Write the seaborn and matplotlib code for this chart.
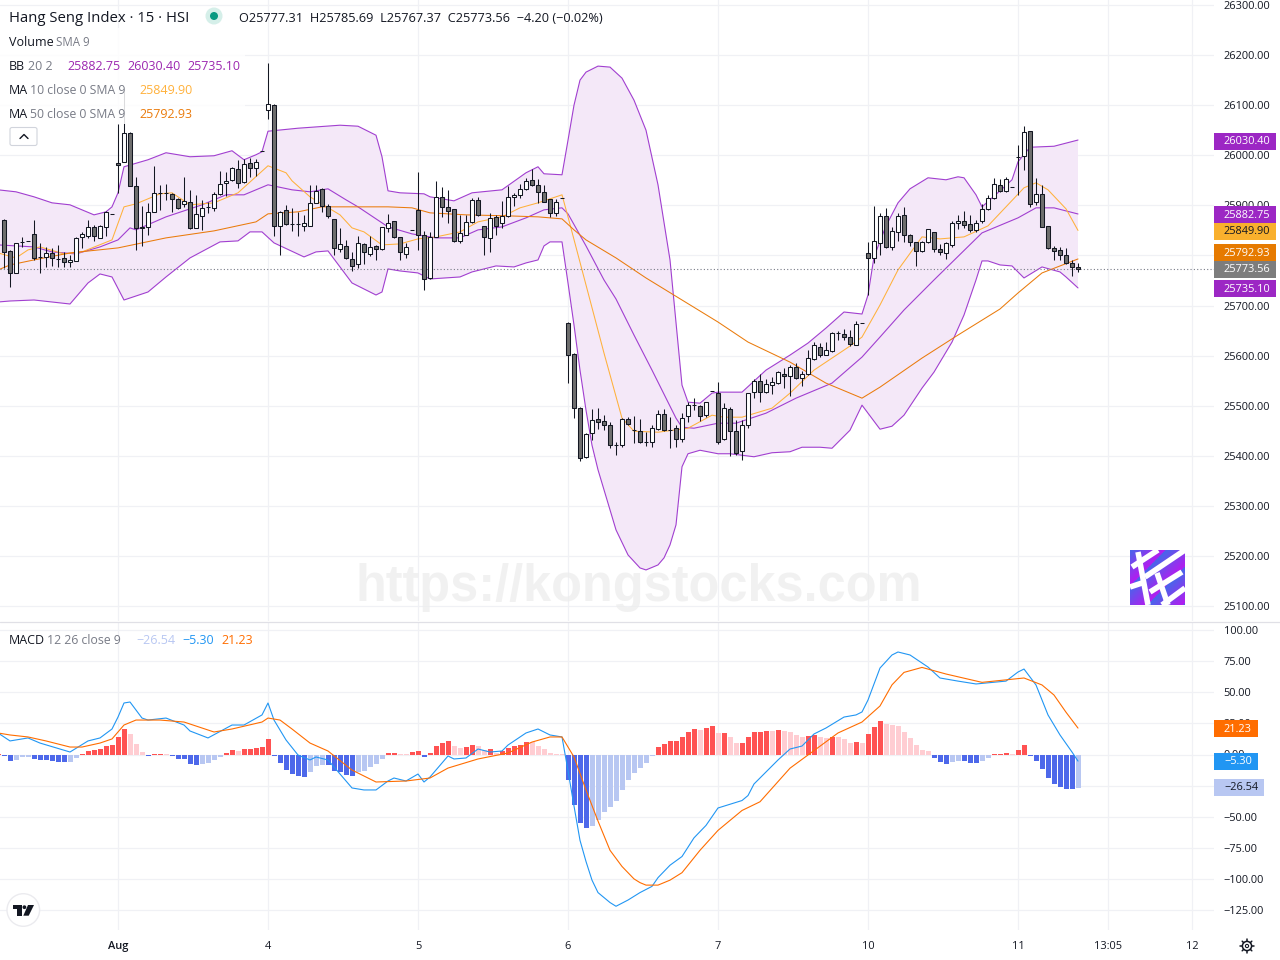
import numpy as np
import pandas as pd
import seaborn as sns
import matplotlib.pyplot as plt
from matplotlib.patches import Rectangle, Circle, FancyBboxPatch, Polygon

# candles, bar 0 is the "Aug" session open, 25 bars a day
opens = [25871,25809,25765,25827,25828,25842,25797,25796,25804,25792,
         25794,25786,25789,25836,25839,25857,25835,25856,25883,25985,
         25987,26044,25938,25854,25857,25886,25924,25924,25922,25912,
         25902,25906,25855,25879,25896,25894,25922,25944,25950,25972,
         25946,25984,25974,26008,26090,26101,25859,25890,25863,25863,
         25859,25859,25904,25932,25898,25872,25813,25819,25792,25782,
         25822,25803,25819,25812,25854,25868,25836,25802,25850,25890,
         25841,25754,25837,25916,25896,25892,25829,25841,25866,25910,
         25858,25834,25876,25864,25878,25916,25921,25932,25950,25940,
         25926,25912,25884,25914,25666,25604,25495,25397,25445,25473,
         25469,25461,25421,25421,25473,25451,25449,25428,25428,25453,
         25483,25452,25455,25433,25479,25501,25499,25481,25529,25525,
         25433,25493,25449,25409,25461,25527,25549,25527,25542,25545,
         25563,25559,25577,25555,25563,25593,25618,25602,25610,25646,
         25644,25638,25622,25666,25804,25794,25824,25878,25817,25846,
         25880,25840,25826,25808,25826,25846,25812,25804,25820,25864,
         25868,25862,25850,25868,25892,25914,25940,25928,25936,25996,
         25998,26048,25906,25922,25858,25814,25810,25800,25784,25777.31]
highs = [25873,25811,25825,25837,25828,25871,25824,25817,25814,25821,
         25807,25801,25836,25847,25871,25861,25861,25889,25883,26062,
         26133,26046,25957,25898,25904,25978,25940,25942,25924,25914,
         25957,25930,25920,25910,25907,25927,25969,25967,25977,25990,
         25992,25994,25992,26008,26185,26103,25889,25900,25894,25887,
         25881,25941,25941,25934,25903,25873,25854,25831,25806,25839,
         25824,25839,25820,25857,25882,25869,25837,25824,25850,25966,
         25849,25847,25949,25936,25931,25893,25881,25881,25915,25916,
         25859,25884,25881,25909,25939,25925,25943,25954,25973,25952,
         25941,25913,25912,25914,25667,25605,25498,25445,25493,25495,
         25481,25468,25428,25475,25478,25479,25473,25448,25461,25491,
         25493,25478,25461,25485,25508,25515,25501,25508,25529,25547,
         25505,25497,25471,25471,25526,25554,25563,25554,25557,25569,
         25575,25581,25585,25570,25611,25628,25626,25628,25647,25650,
         25654,25652,25669,25666,25826,25899,25884,25894,25857,25885,
         25896,25843,25827,25829,25853,25847,25822,25827,25869,25881,
         25889,25881,25871,25902,25921,25954,25953,25956,25936,26020,
         26058,26049,25954,25941,25859,25819,25816,25814,25791,25785.69]
lows = [25774,25737,25765,25817,25828,25791,25765,25777,25779,25777,
        25777,25777,25789,25814,25834,25829,25834,25839,25883,25925,
        25987,25938,25811,25819,25841,25886,25891,25910,25887,25893,
        25897,25853,25854,25851,25884,25889,25920,25919,25949,25934,
        25945,25957,25958,26008,26072,25839,25801,25861,25849,25839,
        25849,25859,25904,25887,25875,25801,25806,25793,25768,25775,
        25783,25799,25791,25811,25846,25835,25791,25795,25850,25811,
        25730,25753,25836,25877,25865,25827,25825,25840,25865,25879,
        25801,25806,25841,25854,25877,25899,25915,25931,25939,25905,
        25906,25877,25879,25914,25545,25475,25390,25396,25431,25453,
        25451,25415,25401,25417,25462,25425,25426,25420,25418,25452,
        25450,25415,25418,25428,25468,25491,25470,25477,25529,25423,
        25432,25400,25401,25391,25456,25516,25508,25526,25523,25544,
        25535,25520,25554,25539,25562,25592,25598,25601,25608,25631,
        25631,25620,25621,25666,25720,25784,25801,25815,25810,25829,
        25827,25819,25778,25807,25825,25806,25801,25793,25817,25853,
        25854,25847,25847,25864,25891,25913,25926,25926,25936,25921,
        25971,25897,25900,25856,25813,25791,25790,25783,25759,25767.37]
closes = [25807,25765,25824,25827,25828,25795,25797,25804,25794,25792,
          25787,25791,25834,25842,25857,25839,25859,25887,25883,25980,
          26044,25938,25854,25857,25886,25924,25924,25924,25912,25894,
          25909,25854,25882,25894,25896,25922,25942,25949,25975,25945,
          25982,25974,25987,26008,26103,25859,25887,25862,25863,25863,
          25864,25904,25929,25898,25879,25814,25822,25794,25778,25824,
          25806,25816,25813,25856,25864,25837,25806,25816,25850,25841,
          25752,25836,25916,25896,25889,25828,25844,25866,25910,25880,
          25836,25874,25859,25878,25916,25920,25932,25949,25940,25926,
          25907,25884,25906,25914,25602,25495,25395,25443,25471,25468,
          25462,25421,25421,25473,25463,25451,25427,25428,25455,25483,
          25451,25452,25433,25475,25501,25501,25479,25507,25529,25428,
          25495,25449,25406,25461,25525,25549,25527,25543,25547,25567,
          25559,25577,25555,25563,25595,25622,25602,25612,25646,25646,
          25638,25624,25664,25666,25794,25828,25878,25816,25848,25878,
          25840,25826,25808,25826,25852,25812,25806,25824,25864,25868,
          25860,25850,25864,25892,25914,25942,25928,25952,25936,25996,
          26046,25902,25922,25857,25814,25808,25800,25784,25776,25773.56]

# bollinger bands and moving averages, read at the bends of each line
upper_bars = [-20,-17,-14,-11,-8,-4,-2,-1,0,1,5,8,12,16,19,21,23,24,25,30,37,40,43,44,45,47,51,52,56,59,64,68,70,71,74,75,76,77,
              78,80,82,84,86,88,90,92,94,95,97,99,100,104,108,112,115,118,121,124,125,126,128,130,132,135,138,140,141,143,144,
              147,149,150,152,156,160]
upper_vals = [25931,25927,25917,25905,25901,25881,25887,25897,25925,25977,25991,26005,25997,25999,26009,25991,26001,26007,26048,
              26054,26060,26058,26040,25997,25929,25925,25923,25917,25909,25925,25931,25965,25977,25963,25961,26030,26100,26150,
              26166,26178,26176,26154,26110,26050,25941,25791,25541,25507,25505,25525,25527,25527,25571,25601,25625,25655,25687,
              25683,25721,25797,25859,25905,25933,25955,25951,25957,25955,25921,25897,25929,25951,25987,26016,26018,26030.40]
lower_bars = [-20,-18,-14,-8,-5,-3,-1,1,3,5,8,12,17,20,22,24,26,31,33,35,39,43,44,45,47,50,52,57,59,63,66,68,70,71,72,74,75,76,77,
              78,79,80,81,83,85,87,88,90,91,92,93,94,95,97,100,102,106,109,112,114,117,119,120,122,124,127,129,131,134,136,139,141,
              143,144,145,147,149,151,154,157,158,160]
lower_vals = [25707,25709,25711,25703,25745,25763,25757,25711,25719,25727,25757,25795,25827,25829,25847,25847,25825,25797,25807,
              25809,25745,25721,25727,25773,25769,25765,25753,25757,25767,25779,25777,25785,25791,25819,25827,25827,25745,25661,
              25571,25491,25421,25372,25332,25252,25202,25176,25172,25182,25196,25222,25262,25378,25404,25411,25404,25404,25398,
              25406,25408,25417,25417,25415,25427,25451,25501,25453,25459,25481,25535,25567,25627,25681,25751,25789,25789,25781,
              25779,25755,25777,25767,25757,25735.10]
basis_bars = [-20,-14,-11,-7,-3,0,2,3,8,14,18,21,25,29,32,35,38,40,45,49,53,57,60,64,68,71,74,75,78,81,83,86,89,91,93,94,96,100,
              103,108,113,119,124,127,131,136,144,150,153,156,160]
basis_vals = [25821,25817,25807,25803,25817,25831,25855,25851,25877,25901,25921,25921,25941,25931,25927,25933,25911,25897,25857,
              25843,25835,25835,25851,25857,25875,25891,25895,25883,25819,25751,25713,25641,25571,25523,25475,25457,25455,25465,
              25465,25485,25515,25545,25597,25637,25691,25751,25845,25875,25895,25895,25882.75]
ma10_bars = [-20,-17,-15,-13,-9,-6,-1,1,3,7,9,12,16,20,25,28,29,32,37,39,41,44,47,50,53,57,60,64,67,70,74,75,78,81,84,86,90,95,99,
             101,104,109,112,116,122,124,127,130,134,137,141,145,148,151,153,155,158,160]
ma10_vals = [25805,25795,25811,25817,25803,25807,25831,25897,25903,25923,25925,25901,25905,25925,25979,25965,25949,25917,25881,
             25855,25847,25821,25823,25833,25837,25847,25867,25877,25895,25905,25921,25877,25741,25605,25475,25449,25447,25455,
             25481,25477,25477,25495,25525,25571,25619,25637,25701,25771,25837,25833,25837,25859,25897,25935,25945,25931,25893,25849.90]
ma50_bars = [-20,-18,-14,-8,0,8,16,23,25,30,34,45,49,52,58,65,70,74,76,78,83,88,94,100,105,112,118,124,127,134,140,147,150,154,160]
ma50_vals = [25771,25781,25791,25805,25815,25835,25849,25867,25883,25887,25897,25897,25895,25885,25881,25879,25877,25873,25851,
             25831,25795,25755,25711,25667,25627,25587,25545,25515,25537,25595,25641,25693,25725,25765,25792.93]

# macd panel
hist_vals = [0.3,-1.1,-5.6,-4.3,-2.4,-1.9,-3.5,-4.3,-4.8,-5,-5.9,-6,-5.9,-2.7,0.5,3.2,4,4.8,7.2,7.3,13.7,20.6,16.6,8.6,2.1,-1.1,
             0.5,0.6,0.5,-1.1,-3.5,-3.6,-7.5,-8.3,-7.5,-6.7,-4.3,-1.9,1.3,3.8,2.9,4.6,4.7,5.4,6.2,12.6,-1.1,-6.7,-12.3,-15.5,-17.6,
             -17.8,-14.1,-9.6,-8.1,-8.3,-12.9,-13.7,-16.1,-16.9,-14.1,-12.9,-10.2,-8,-4,1.1,1.6,0.5,0.5,2.4,3.2,-2.1,1.1,7.2,9.6,10.5,
             7.2,5.6,5.8,8,7.2,4,4.4,1.6,3.2,5.6,7.2,8,10.2,10,7.2,4.8,1.6,0.5,0.5,-20.9,-40.2,-55.2,-59.2,-57.1,-52.3,-46.6,-42.4,-37,
             -28.2,-20.1,-14.5,-10.5,-7.2,-1.6,6.2,8.6,11,11.1,14.2,18.2,20.6,19.8,21.4,23,17.4,17.6,14.2,9.4,9.6,14.2,18.2,18.3,19,19,
             19.8,19,18.2,15.8,14.2,15,15.8,14.2,13.4,14.2,14.2,12.6,9.4,10.2,9.4,16.6,22,27,24.7,23.9,23,18.2,13.4,7.8,3.8,2.9,-2.7,
             -5.9,-7.5,-5.9,-5.1,-5.3,-6.7,-6.9,-5.1,-2.7,0.5,0.6,1.3,0.5,3.8,7.8,-1.1,-5.1,-11.5,-18.8,-23.6,-26,-27.6,-27.8,-26.54]
macd_bars = [-20,-18,-15,-13,-8,-5,-3,-1,0,1,2,4,5,8,11,12,15,19,21,24,25,26,28,30,32,33,35,39,41,43,45,46,48,50,51,52,55,56,58,60,
             62,64,65,68,70,72,74,75,76,77,78,79,80,82,83,85,87,89,90,92,94,96,98,100,102,104,105,106,110,112,114,116,118,121,123,
             124,125,127,129,130,132,135,137,140,143,148,150,151,153,155,157,159,160]
macd_vals = [17.3,10.9,13.3,9.2,2,10.9,13.3,20.5,30.1,41.4,42.2,29.3,27.7,29.3,23.7,18.9,13.3,23.7,23.7,31.8,41.4,27.7,11.7,-0.4,-4.4,
             -2,-4.4,-26.9,-28.5,-28.5,-21.3,-18.9,-21.3,-15.7,-22.1,-18.1,-1.2,-3.6,-2.8,4.4,2,2.8,7.6,17.3,20.5,15.7,14.1,-13,-41.4,
             -69,-86,-101,-111,-119,-122,-117,-111,-106,-99,-89,-82,-67,-57,-43,-40,-37,-33,-23.7,-4.4,4.4,6.8,16.5,21.3,30.1,31.8,
             34.2,43.8,69.5,80,82.4,80,70.3,61.5,59,56.7,59,66.3,68.7,55.9,31.8,15.7,2,-5.30]
signal_bars = [-20,-18,-15,-12,-8,-6,-3,-1,1,3,7,11,16,19,24,25,27,29,32,35,39,43,48,52,55,60,65,69,72,74,76,78,80,82,84,86,87,88,90,92,
               94,97,100,104,107,112,120,124,127,129,131,134,138,144,151,154,156,158,160]
signal_vals = [17.3,15.7,14.1,10.9,6,6,9.2,12.5,23.7,27.7,27.7,26.1,18.1,20.5,26.1,29.3,27.7,20.5,9.2,2.8,-12.5,-22.1,-21.3,-18.9,
               -10.9,-3.6,1.2,10,14.1,14.1,-2,-28.5,-53.5,-77,-90,-100,-103,-105,-105,-101,-95,-77,-61,-45,-38,-11,17.3,26.1,39,56,66,70,64.7,
               58,61.5,55.9,47.8,34,21.23]

price_ticks = list(range(25100, 26400, 100))
macd_ticks = [100, 75, 50, 25, 0, -25, -50, -75, -100, -125]
macd_tick_labels = ['100.00', '75.00', '50.00', '25.00', '0.00', '\u221225.00', '\u221250.00', '\u221275.00', '\u2212100.00', '\u2212125.00']
day_ticks = [0, 25, 50, 75, 100, 125, 150, 165, 179]
day_labels = ['Aug', '4', '5', '6', '7', '10', '11', '13:05', '12']

PURPLE = '#9c27b0'
MA10_COL = '#ffb13b'
MA50_COL = '#ea7b0c'
GRID = '#f0f1f5'
DARK = '#131722'
GREY = '#787b86'
BLUE_LINE = '#2196f3'
ORANGE_LINE = '#ff6d00'

sns.set_theme(style='white')
plt.rcParams['font.family'] = ['Open Sans', 'DejaVu Sans']

fig = plt.figure(figsize=(12.8, 9.6), dpi=100, facecolor='white')
W, H = 1280, 960
xlim = (-118 / 6, (1214 - 118) / 6)


def pane(top, bottom):
    ax = fig.add_axes([0, 1 - bottom / H, 1214 / W, (bottom - top) / H])
    ax.set_xlim(*xlim)
    for s in ax.spines.values():
        s.set_visible(False)
    ax.yaxis.tick_right()
    ax.tick_params(axis='both', length=0, labelsize=7.9, labelcolor=DARK)
    ax.tick_params(axis='y', pad=7)
    ax.grid(True, color=GRID, lw=0.9)
    ax.set_axisbelow(True)
    ax.set_xticks(day_ticks)
    return ax


# price pane
ax = pane(0, 621)
ax.set_ylim(26310 - 1.9967 * 621, 26310)
ax.set_yticks(price_ticks)
ax.set_yticklabels(['%.2f' % p for p in price_ticks])
ax.tick_params(axis='x', labelbottom=False)

ax.fill(upper_bars + lower_bars[::-1], upper_vals + lower_vals[::-1], color='#f4e8f8', lw=0, zorder=1)
for xs, ys, col, lw in [(upper_bars, upper_vals, '#a13fd0', 0.8), (lower_bars, lower_vals, '#a13fd0', 0.8),
                        (basis_bars, basis_vals, '#a13fd0', 0.8), (ma10_bars, ma10_vals, MA10_COL, 0.75),
                        (ma50_bars, ma50_vals, MA50_COL, 0.75)]:
    sns.lineplot(x=xs, y=ys, ax=ax, color=col, lw=lw, estimator=None, sort=False, zorder=2)
ax.axhline(closes[-1], color=GREY, lw=0.8, ls=(0, (1, 2)), zorder=2)

candles = pd.DataFrame({'open': opens, 'high': highs, 'low': lows, 'close': closes})
candles['bar'] = np.arange(-19, 161)
ax.vlines(candles['bar'], candles['low'], candles['high'], color=DARK, lw=0.75, zorder=3)
up = candles['close'] >= candles['open']
ax.bar(candles['bar'], (candles['close'] - candles['open']).abs(), bottom=candles[['open', 'close']].min(axis=1),
       width=0.7, color=np.where(up, 'white', '#6e6e6e'), edgecolor=DARK, lw=0.75, zorder=4)

# macd pane
ax2 = pane(622, 930)
ax2.set_ylim((754.5 - 930) / 1.244, (754.5 - 622) / 1.244)
ax2.set_yticks(macd_ticks)
ax2.set_yticklabels(macd_tick_labels)
ax2.set_xticklabels(day_labels)
ax2.tick_params(axis='x', pad=8)
ax2.get_xticklabels()[0].set_fontweight('semibold')

hist = pd.DataFrame({'bar': np.arange(-20, 161), 'val': hist_vals})
prev = hist['val'].shift(1).fillna(0)
colors = np.where(hist['val'] >= 0,
                  np.where(hist['val'] > prev, '#ff5252', '#ffcdd2'),
                  np.where(hist['val'] < prev, '#4d68ea', '#b8c7f2'))
# half a pixel to the right so every column snaps to 5 px with a 1 px gap
ax2.bar(hist['bar'] + 0.08, hist['val'], width=0.83, color=colors, lw=0, zorder=2)
sns.lineplot(x=macd_bars, y=macd_vals, ax=ax2, color=BLUE_LINE, lw=0.8, estimator=None, sort=False, zorder=3)
sns.lineplot(x=signal_bars, y=signal_vals, ax=ax2, color=ORANGE_LINE, lw=0.8, estimator=None, sort=False, zorder=3)

# overlay in screen pixels for legend rows, price tags and logos
ov = fig.add_axes([0, 0, 1, 1], zorder=10)
ov.set_xlim(0, W)
ov.set_ylim(H, 0)
ov.axis('off')
ov.patch.set_alpha(0)

ov.plot([0, 1280], [621.5, 621.5], color='#e0e0e6', lw=0.9)

# watermark
ov.text(639, 587, 'https://kongstocks.com', family='Liberation Sans', weight='bold', fontsize=36.4,
        color='#ededed', ha='center', va='center', alpha=0.75)

ov.add_patch(Rectangle((0, 28), 245, 96, color='white', alpha=0.85, lw=0, zorder=0))
ov.text(9, 18, 'Hang Seng Index \u00b7 15 \u00b7 HSI', color=DARK, fontsize=10.7, va='center')
ov.add_patch(Circle((214, 16), 8.5, color='#d5efe9', lw=0))
ov.add_patch(Circle((214, 16), 4, color='#089981', lw=0))
ov.text(239, 18, 'O25777.31  H25785.69  L25767.37  C25773.56  \u22124.20 (\u22120.02%)', color=DARK, fontsize=9.2, va='center')
ov.text(9, 42, 'Volume', color=DARK, fontsize=9, va='center')
ov.text(56, 42, 'SMA 9', color=GREY, fontsize=8.3, va='center')
ov.text(9, 66, 'BB', color=DARK, fontsize=9, va='center')
ov.text(28, 66, '20 2', color=GREY, fontsize=9, va='center')
for x, s in [(67, '25882.75'), (127, '26030.40'), (187, '25735.10')]:
    ov.text(x, 66, s, color=PURPLE, fontsize=9, va='center')
ov.text(9, 90, 'MA', color=DARK, fontsize=9, va='center')
ov.text(30, 90, '10 close 0 SMA 9', color=GREY, fontsize=8.8, va='center')
ov.text(139, 90, '25849.90', color=MA10_COL, fontsize=9, va='center')
ov.text(9, 114, 'MA', color=DARK, fontsize=9, va='center')
ov.text(30, 114, '50 close 0 SMA 9', color=GREY, fontsize=8.8, va='center')
ov.text(139, 114, '25792.93', color=MA50_COL, fontsize=9, va='center')
ov.text(9, 640, 'MACD', color=DARK, fontsize=9, va='center')
ov.text(47, 640, '12 26 close 9', color=GREY, fontsize=8.8, va='center')
ov.text(136, 640, '\u221226.54', color='#b8c7f2', fontsize=9, va='center')
ov.text(182, 640, '\u22125.30', color=BLUE_LINE, fontsize=9, va='center')
ov.text(221, 640, '21.23', color=ORANGE_LINE, fontsize=9, va='center')

# collapse button
ov.add_patch(FancyBboxPatch((10, 127.5), 27, 18, boxstyle='round,pad=0,rounding_size=2', fc='white', ec='#d1d4dc', lw=0.8))
ov.plot([20, 24, 28], [138.5, 134.5, 138.5], color=DARK, lw=1)

# price tags
tags = [(1214, 1276, 141.5, '26030.40', '#9c27c4', 'white'), (1214, 1276, 214.5, '25882.75', '#9c27c4', 'white'),
        (1214, 1276, 231.5, '25849.90', '#f9b02d', DARK), (1214, 1276, 252.5, '25792.93', '#e67a00', 'white'),
        (1214, 1276, 269.5, '25773.56', '#7d7d7d', 'white'), (1214, 1276, 288.5, '25735.10', '#9c27c4', 'white'),
        (1214, 1258, 728.5, '21.23', '#ff6d00', 'white'), (1214, 1258, 761.5, '\u22125.30', '#2196f3', 'white'),
        (1214, 1264, 787.5, '\u221226.54', '#b8c7f2', DARK)]
for x0, x1, yc, s, bg, fg in tags:
    ov.add_patch(Rectangle((x0, yc - 8.5), x1 - x0, 17, color=bg, lw=0))
    ov.text(1224, yc + 0.5, s, color=fg, fontsize=7.9, va='center', ha='left')

# site logo, gradient square with white strokes
logo = fig.add_axes([1130 / W, 1 - 605 / H, 55 / W, 55 / H], zorder=11)
gx, gy = np.meshgrid(np.linspace(0, 1, 40), np.linspace(0, 1, 40))
stripe = ((gx + (1 - gy)) * 1.5) % 1
rgb = np.dstack([0.28 + 0.44 * stripe, 0.40 - 0.30 * stripe, 0.92 + 0.02 * stripe])
logo.imshow(rgb, extent=(0, 55, 55, 0), aspect='auto', origin='lower')
logo.set_xlim(0, 55)
logo.set_ylim(55, 0)
logo.axis('off')
for x0, y0, x1, y1, lw in [(2, 17, 28, 0, 4), (8, 2, 18, 55, 4), (0, 37, 12, 33, 4), (15, 27, 55, 0, 4),
                           (20, 42, 52, 22, 4), (32, 55, 55, 38, 4), (27, 23, 38, 55, 4)]:
    logo.plot([x0, x1], [y0, y1], color='white', lw=lw, solid_capstyle='butt')

# tradingview badge
ov.add_patch(Circle((23.3, 910), 16.3, fc='white', ec='#ebebef', lw=1))
ov.add_patch(Polygon([(12.7, 905), (21.7, 905), (21.7, 915.7), (17.3, 915.7), (17.3, 909.3), (12.7, 909.3)], fc=DARK, lw=0))
ov.add_patch(Circle((24.4, 907.2), 1.9, fc=DARK, lw=0))
ov.add_patch(Polygon([(28, 905), (34, 905), (28.7, 915.7), (23.3, 915.7)], fc=DARK, lw=0))

# settings gear
ov.add_patch(Circle((1247, 946), 4.6, fc='white', ec=DARK, lw=1.1))
ov.add_patch(Circle((1247, 946), 1.6, fc='white', ec=DARK, lw=0.8))
for a in np.arange(8) * np.pi / 4:
    ov.plot([1247 + 4.6 * np.cos(a), 1247 + 6.8 * np.cos(a)], [946 + 4.6 * np.sin(a), 946 + 6.8 * np.sin(a)], color=DARK, lw=1.1)

fig.savefig('out.png', dpi=100)
